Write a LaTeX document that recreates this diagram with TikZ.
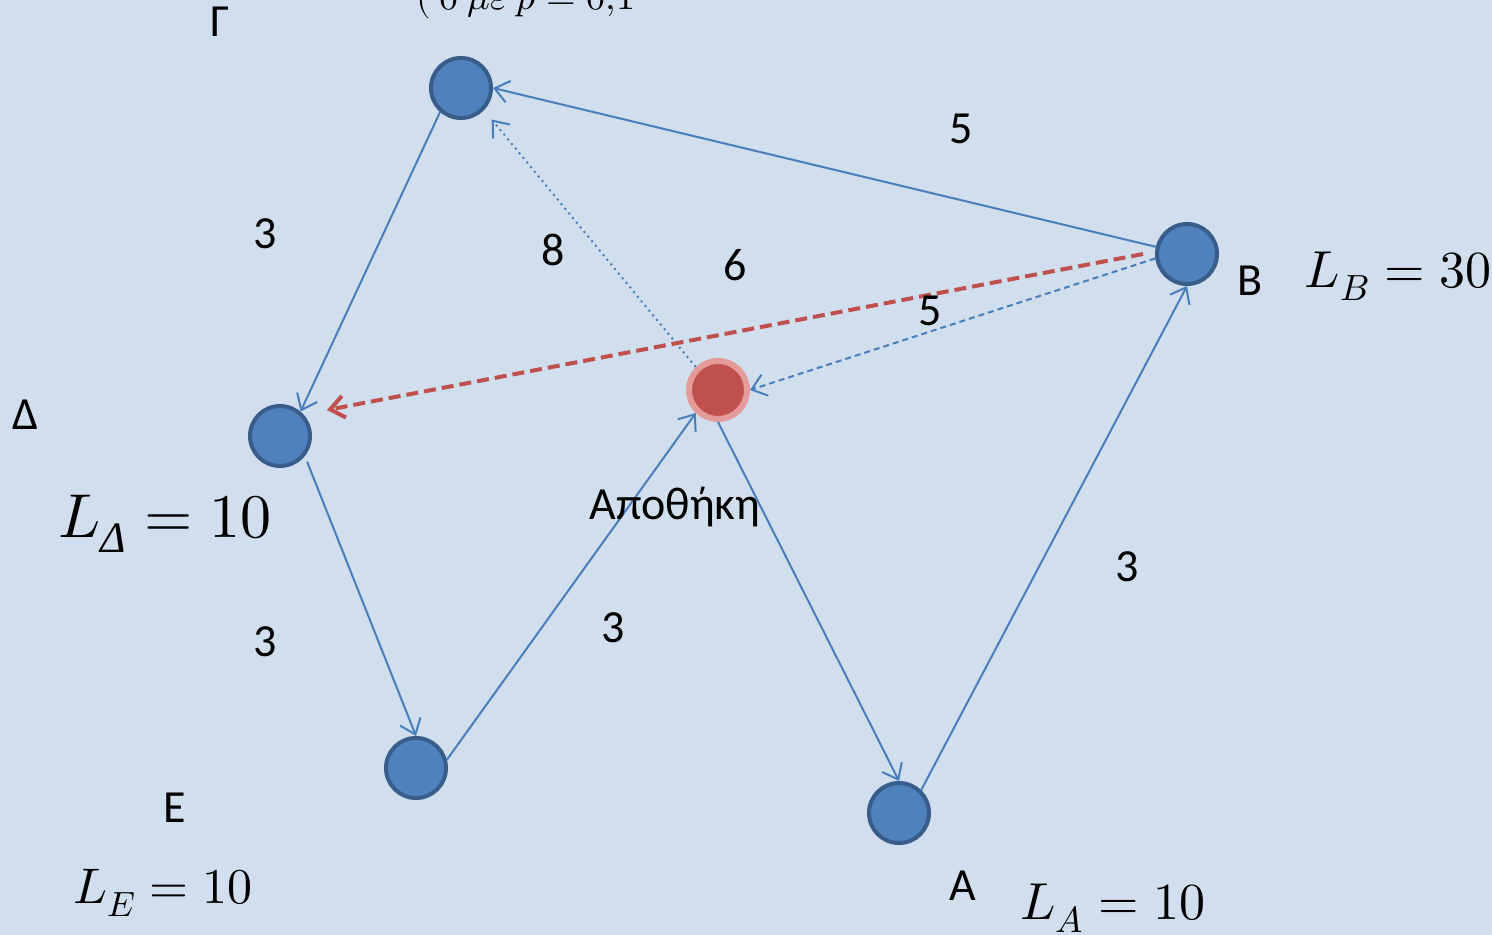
\documentclass[tikz,border=0pt]{standalone}
\usepackage{amsmath}
\usepackage{fontspec}
\setmainfont{Carlito}
\usepackage{unicode-math}
\setmathfont{Latin Modern Math}
\newfontfamily\greekital{Liberation Serif}
\usetikzlibrary{arrows.meta}
\definecolor{bgc}{HTML}{D0DEEE}
\definecolor{nodefill}{HTML}{4F81BD}
\definecolor{nodeline}{HTML}{385D8A}
\definecolor{edgec}{HTML}{4A7EBB}
\definecolor{redfill}{HTML}{C0504D}
\definecolor{redline}{HTML}{E49B99}
\tikzset{
  cust/.style={circle, fill=nodefill, draw=nodeline, line width=2pt, minimum size=30pt, inner sep=0pt},
  depotnode/.style={circle, fill=redfill, draw=redline, line width=3pt, minimum size=29pt, inner sep=0pt},
  edge/.style={draw=edgec, line width=1pt, -{Straight Barb[length=7pt,width=11pt]}},
  bluedash/.style={dash pattern=on 3pt off 2pt},
  redarrow/.style={draw=redfill, line width=2pt, dash pattern=on 6pt off 3pt, -{Straight Barb[length=7pt,width=11pt]}},
  lbl/.style={font=\fontsize{23}{26}\selectfont, inner sep=0pt},
  mlbl/.style={inner sep=0pt}
}
\begin{document}
\begin{tikzpicture}[x=0.5pt,y=-0.5pt]
\fill[bgc] (0,0) rectangle (1492,935);
\useasboundingbox (0,0) rectangle (1492,935);
% nodes
\node[cust] (G) at (461,88) {};
\node[cust] (B) at (1187,254) {};
\node[cust] (D) at (280,436) {};
\node[cust] (E) at (416,768) {};
\node[cust] (A) at (899,813) {};
\node[depotnode] (W) at (718,390) {};
% edges
\draw[edge] (B.167) -- (G.0);
\draw[edge] (G.229) -- (D.50);
\draw[edge, shorten <=3pt] (D.321) -- (E.90);
\draw[edge] (E.15) -- (W.226);
\draw[edge] (W.270) -- (A.90);
\draw[edge] (A.46) -- (B.270);
\draw[edge, dotted, shorten >=6pt] (W.134) -- (G.316);
\draw[edge, bluedash] (B.188) -- (W.0);
\draw[redarrow] ([shift={(-12,0)}]B.west) -- ([shift={(47,-26)}]D.center);
% names
\node[lbl] (nG) at (220,22) {Γ};
\node[lbl] (nB) at (1250,281) {Β};
\node[lbl] (nD) at (25,415) {Δ};
\node[lbl] (nE) at (175,808) {Ε};
\node[lbl] (nA) at (963,886) {Α};
\node[lbl] (nW) at (675,507) {Αποθήκη};
% weights
\node[lbl] (w1) at (961,129) {5};
\node[lbl] (w2) at (265,234) {3};
\node[lbl] (w3) at (553,250) {8};
\node[lbl] (w4) at (735,265) {6};
\node[lbl] (w5) at (930,311) {5};
\node[lbl] (w6) at (265,642) {3};
\node[lbl] (w7) at (613,628) {3};
\node[lbl] (w8) at (1127,567) {3};
% math labels
\node[mlbl, font=\fontsize{26}{30}\selectfont] (LB) at (1398,276) {$L_{B}=30$};
\node[mlbl, font=\fontsize{31}{36}\selectfont] (LD) at (165,524) {$L_{\text{\greekital\itshape Δ}}=10$};
\node[mlbl, font=\fontsize{25}{30}\selectfont] (LE) at (163,893) {$L_{E}=10$};
\node[mlbl, font=\fontsize{26}{30}\selectfont] (LA) at (1113,908) {$L_{A}=10$};
\node[mlbl, font=\fontsize{19}{22}\selectfont] (top) at (526,0) {$(\ 0\ \mitmu\mitvarepsilon\ p=0{,}1$};
\end{tikzpicture}
\end{document}
